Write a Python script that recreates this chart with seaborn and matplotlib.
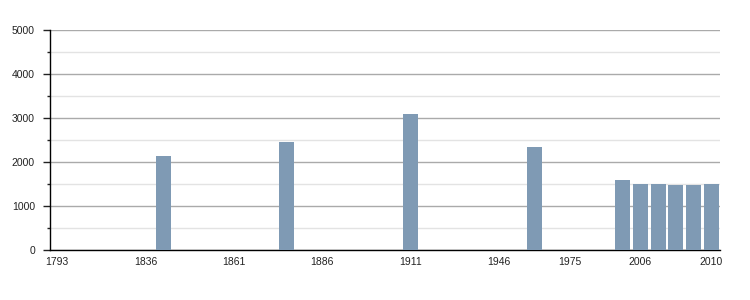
import matplotlib
matplotlib.use("Agg")
import matplotlib.pyplot as plt
from matplotlib.ticker import MultipleLocator
import seaborn as sns
import pandas as pd

census_years = ["1793", "1800", "1806", "1821", "1831", "1836", "1841", "1846", "1851",
                "1856", "1861", "1866", "1872", "1876", "1881", "1886", "1891", "1896",
                "1901", "1906", "1911", "1921", "1926", "1931", "1936", "1946", "1954",
                "1962", "1968", "1975", "1982", "1990", "1999", "2006", "2007", "2008",
                "2009", "2010"]
pop_years = ["1841", "1876", "1911", "1962", "1999", "2006", "2007", "2008", "2009", "2010"]
population = [2140, 2460, 3090, 2340, 1590, 1500, 1500, 1480, 1480, 1500]
tick_labels = ["1793", "1836", "1861", "1886", "1911", "1946", "1975", "2006", "2010"]

sns.set_style("white")
plt.rcParams["font.family"] = ["Liberation Sans", "DejaVu Sans"]

df = pd.DataFrame({"year": pop_years, "population": population})

fig = plt.figure(figsize=(7.5, 3.0), dpi=100)
ax = fig.add_axes([50 / 750, 1 - 250 / 300, 670 / 750, 220 / 300])

sns.barplot(data=df, x="year", y="population", order=census_years,
            color="#7f9ab4", saturation=1, width=0.85, edgecolor="none",
            linewidth=0, ax=ax, zorder=3)

ax.set_xlim(-0.4, 37.5)
ax.set_ylim(0, 5000)
ax.yaxis.set_major_locator(MultipleLocator(1000))
ax.yaxis.set_minor_locator(MultipleLocator(500))
ax.grid(which="major", axis="y", color="#aaaaaa", linewidth=1, zorder=0)
ax.grid(which="minor", axis="y", color="#e3e3e3", linewidth=1, zorder=0)
ax.grid(axis="x", visible=False)
ax.set_axisbelow(True)

pos = [census_years.index(t) for t in tick_labels]
ax.set_xticks(pos)
ax.set_xticklabels(tick_labels)
ax.tick_params(axis="x", length=0, pad=5, labelsize=7.5, colors="#222222")
ax.tick_params(axis="y", which="major", length=5, width=1, pad=5.8, labelsize=7.5,
               colors="#222222", left=True)
ax.tick_params(axis="y", which="minor", length=2.5, width=1, left=True, color="#222222")

for s in ["top", "right"]:
    ax.spines[s].set_visible(False)
for s in ["left", "bottom"]:
    ax.spines[s].set_color("#000000")
    ax.spines[s].set_linewidth(1.0)

ax.set_xlabel("")
ax.set_ylabel("")

fig.savefig("out.png", dpi=100)
